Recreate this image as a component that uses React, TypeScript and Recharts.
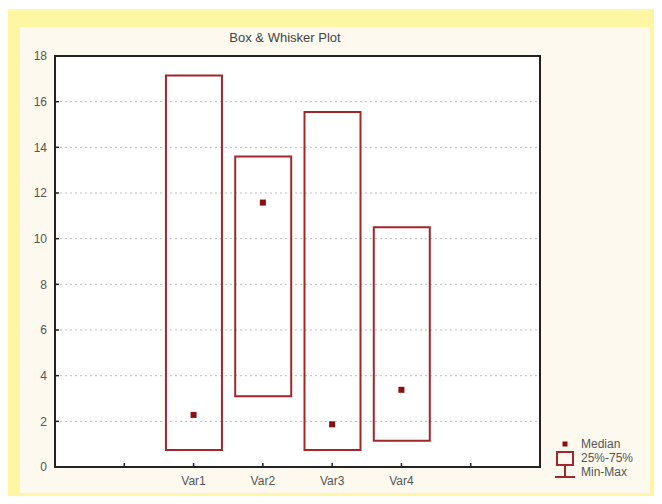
import {
  Bar,
  CartesianGrid,
  ComposedChart,
  ReferenceArea,
  Scatter,
  XAxis,
  YAxis,
} from "recharts";

const categories = ["Var1", "Var2", "Var3", "Var4"];
const positions = [2, 3, 4, 5];
const q1 = [0.75, 3.1, 0.75, 1.15];
const q3 = [17.15, 13.6, 15.55, 10.5];
const medians = [2.28, 11.58, 1.87, 3.38];

const yTicks = [0, 2, 4, 6, 8, 10, 12, 14, 16, 18];
const xTicks = [1, 2, 3, 4, 5, 6];

const chartData = categories.map((name, i) => ({
  name,
  x: positions[i],
  q1: q1[i],
  q3: q3[i],
  median: medians[i],
}));

const RED = "#a3262b";
const DARK = "#8a0f12";
const font = "Arial, 'Liberation Sans', sans-serif";

function labelFor(v: number) {
  const i = positions.indexOf(v);
  return i >= 0 ? categories[i] : "";
}

function MedianDot(props: any) {
  const { cx, cy } = props;
  if (cx == null || cy == null) return null;
  return <rect x={cx - 3} y={cy - 3} width={6} height={6} fill={DARK} />;
}

function LegendBox() {
  return (
    <div style={{ position: "absolute", left: 550, top: 435, width: 100, height: 48 }}>
      <svg width={30} height={48} style={{ position: "absolute", left: 0, top: 0 }}>
        <rect x={12.5} y={6.5} width={5} height={5} fill={DARK} />
        <rect x={7} y={17} width={16} height={13} fill="none" stroke={RED} strokeWidth={2} />
        <line x1={15} y1={30} x2={15} y2={42} stroke={RED} strokeWidth={2} />
        <line x1={5} y1={42} x2={25} y2={42} stroke={RED} strokeWidth={2} />
      </svg>
      <div
        style={{
          position: "absolute",
          left: 31,
          top: 2,
          fontFamily: font,
          fontSize: 12,
          lineHeight: "14px",
          color: "#555",
          whiteSpace: "nowrap",
        }}
      >
        <div>Median</div>
        <div>25%-75%</div>
        <div>Min-Max</div>
      </div>
    </div>
  );
}

export default function App() {
  return (
    <div style={{ position: "relative", width: 662, height: 504, margin: -8, background: "#fff", overflow: "hidden" }}>
      <div style={{ position: "absolute", left: 5, top: 9, right: 0, bottom: 0, background: "#fff6a3" }} />
      <div style={{ position: "absolute", left: 20, top: 27, width: 630, height: 466, background: "#fdf9ef" }} />
      <div
        style={{
          position: "absolute",
          left: 185,
          top: 30,
          width: 200,
          textAlign: "center",
          fontFamily: font,
          fontSize: 13,
          color: "#444",
        }}
      >
        Box &amp; Whisker Plot
      </div>
      <div style={{ position: "absolute", left: 0, top: 0 }}>
        <ComposedChart
          width={662}
          height={504}
          data={chartData}
          margin={{ top: 56, right: 122, bottom: 7, left: 15 }}
        >
          <CartesianGrid
            vertical={false}
            fill="#ffffff"
            stroke="#bdbdbd"
            strokeDasharray="2 3"
          />
          <XAxis
            dataKey="x"
            type="number"
            domain={[0, 7]}
            ticks={xTicks}
            tickFormatter={labelFor}
            axisLine={false}
            tickSize={-4}
            tickMargin={13}
            height={30}
            tickLine={{ stroke: "#222", strokeWidth: 1.5 }}
            tick={{ fill: "#555", fontSize: 12, fontFamily: font }}
            interval={0}
          />
          <XAxis
            xAxisId="top"
            orientation="top"
            type="number"
            domain={[0, 7]}
            ticks={xTicks}
            tickFormatter={() => ""}
            axisLine={false}
            tickSize={-4}
            height={0}
            tickLine={{ stroke: "#222", strokeWidth: 1.5 }}
          />
          <YAxis
            type="number"
            domain={[0, 18]}
            ticks={yTicks}
            axisLine={false}
            tickSize={-4}
            tickMargin={12}
            width={40}
            tickLine={{ stroke: "#222", strokeWidth: 1.5 }}
            tick={{ fill: "#555", fontSize: 12, fontFamily: font }}
            interval={0}
          />
          <YAxis
            yAxisId="right"
            orientation="right"
            type="number"
            domain={[0, 18]}
            ticks={yTicks}
            tickFormatter={() => ""}
            axisLine={false}
            tickSize={-4}
            width={0}
            tickLine={{ stroke: "#222", strokeWidth: 1.5 }}
          />
          <Bar
            dataKey={(d: any) => [d.q1, d.q3]}
            barSize={56}
            fill="none"
            stroke={RED}
            strokeWidth={2}
            isAnimationActive={false}
          />
          <Scatter dataKey="median" shape={MedianDot} isAnimationActive={false} />
          <ReferenceArea
            x1={0}
            x2={7}
            y1={0}
            y2={18}
            fill="none"
            stroke="#222"
            strokeWidth={2}
            ifOverflow="visible"
          />
        </ComposedChart>
      </div>
      <LegendBox />
    </div>
  );
}
